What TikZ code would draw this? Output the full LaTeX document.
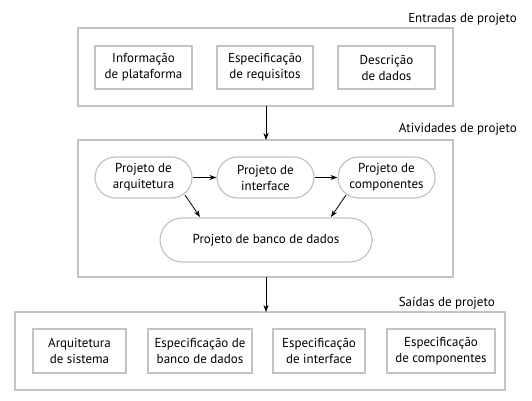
\documentclass[tikz,border=0pt]{standalone}
\usepackage{fontspec}
\setmainfont{PT Sans}
\usetikzlibrary{arrows.meta,shapes.misc}
\definecolor{bord}{RGB}{195,195,195}
\begin{document}
\begin{tikzpicture}[x=1pt,y=-1pt,
  font=\fontsize{13}{16}\selectfont,
  group/.style={draw=bord,line width=1.6pt},
  sqbox/.style={draw=bord,line width=1.4pt,align=center,inner sep=0pt},
  rbox/.style={draw=bord,line width=1.2pt,align=center,inner sep=0pt,rounded rectangle},
  arr/.style={-{Stealth[length=7pt,width=5pt]},line width=0.8pt},
  ttl/.style={anchor=east,inner sep=0pt}]
\useasboundingbox (0,0) rectangle (532,401);
% top
\draw[group] (78,28) rectangle (453,106);
\node[ttl] (t1) at (517,19) {Entradas de projeto};
\node[sqbox,minimum width=97pt,minimum height=43pt] (i1) at (143.5,67.5) {Informação\\de plataforma};
\node[sqbox,minimum width=96pt,minimum height=43pt] (i2) at (265,67.5) {Especificação\\de requisitos};
\node[sqbox,minimum width=97pt,minimum height=43pt] (i3) at (386.5,67.5) {Descrição\\de dados};
\coordinate (topb) at (266,106);
% middle
\draw[group] (78,140) rectangle (453,277);
\node[ttl] (t2) at (517,129) {Atividades de projeto};
\coordinate (midt) at (266,140);
\coordinate (midb) at (266,277);
\node[rbox,minimum width=97pt,minimum height=41pt] (a1) at (143.5,177.5) {Projeto de\\arquitetura};
\node[rbox,minimum width=97pt,minimum height=41pt] (a2) at (265.5,177.5) {Projeto de\\interface};
\node[rbox,minimum width=97pt,minimum height=41pt] (a3) at (386.5,177.5) {Projeto de\\componentes};
\node[rbox,minimum width=212pt,minimum height=44pt] (a4) at (266,240) {Projeto de banco de dados};
% bottom
\draw[group] (15,312) rectangle (505,390);
\node[ttl] (t3) at (495,303) {Saídas de projeto};
\coordinate (bott) at (266,312);
\node[sqbox,minimum width=93pt,minimum height=44pt] (o1) at (79.5,351) {Arquitetura\\de sistema};
\node[sqbox,minimum width=104pt,minimum height=44pt] (o2) at (200,351) {Especificação de\\banco de dados};
\node[sqbox,minimum width=92pt,minimum height=44pt] (o3) at (319,351) {Especificação\\de interface};
\node[sqbox,minimum width=108pt,minimum height=44pt] (o4) at (441,351) {Especificação\\de componentes};
% arrows
\draw[arr] (topb) -- (midt);
\draw[arr] (midb) -- (bott);
\draw[arr] (a1.east) -- (a2.west);
\draw[arr] (a2.east) -- (a3.west);
\draw[arr] (185,195) -- (200,217);
\draw[arr] (346,195) -- (331,217);
\end{tikzpicture}
\end{document}
